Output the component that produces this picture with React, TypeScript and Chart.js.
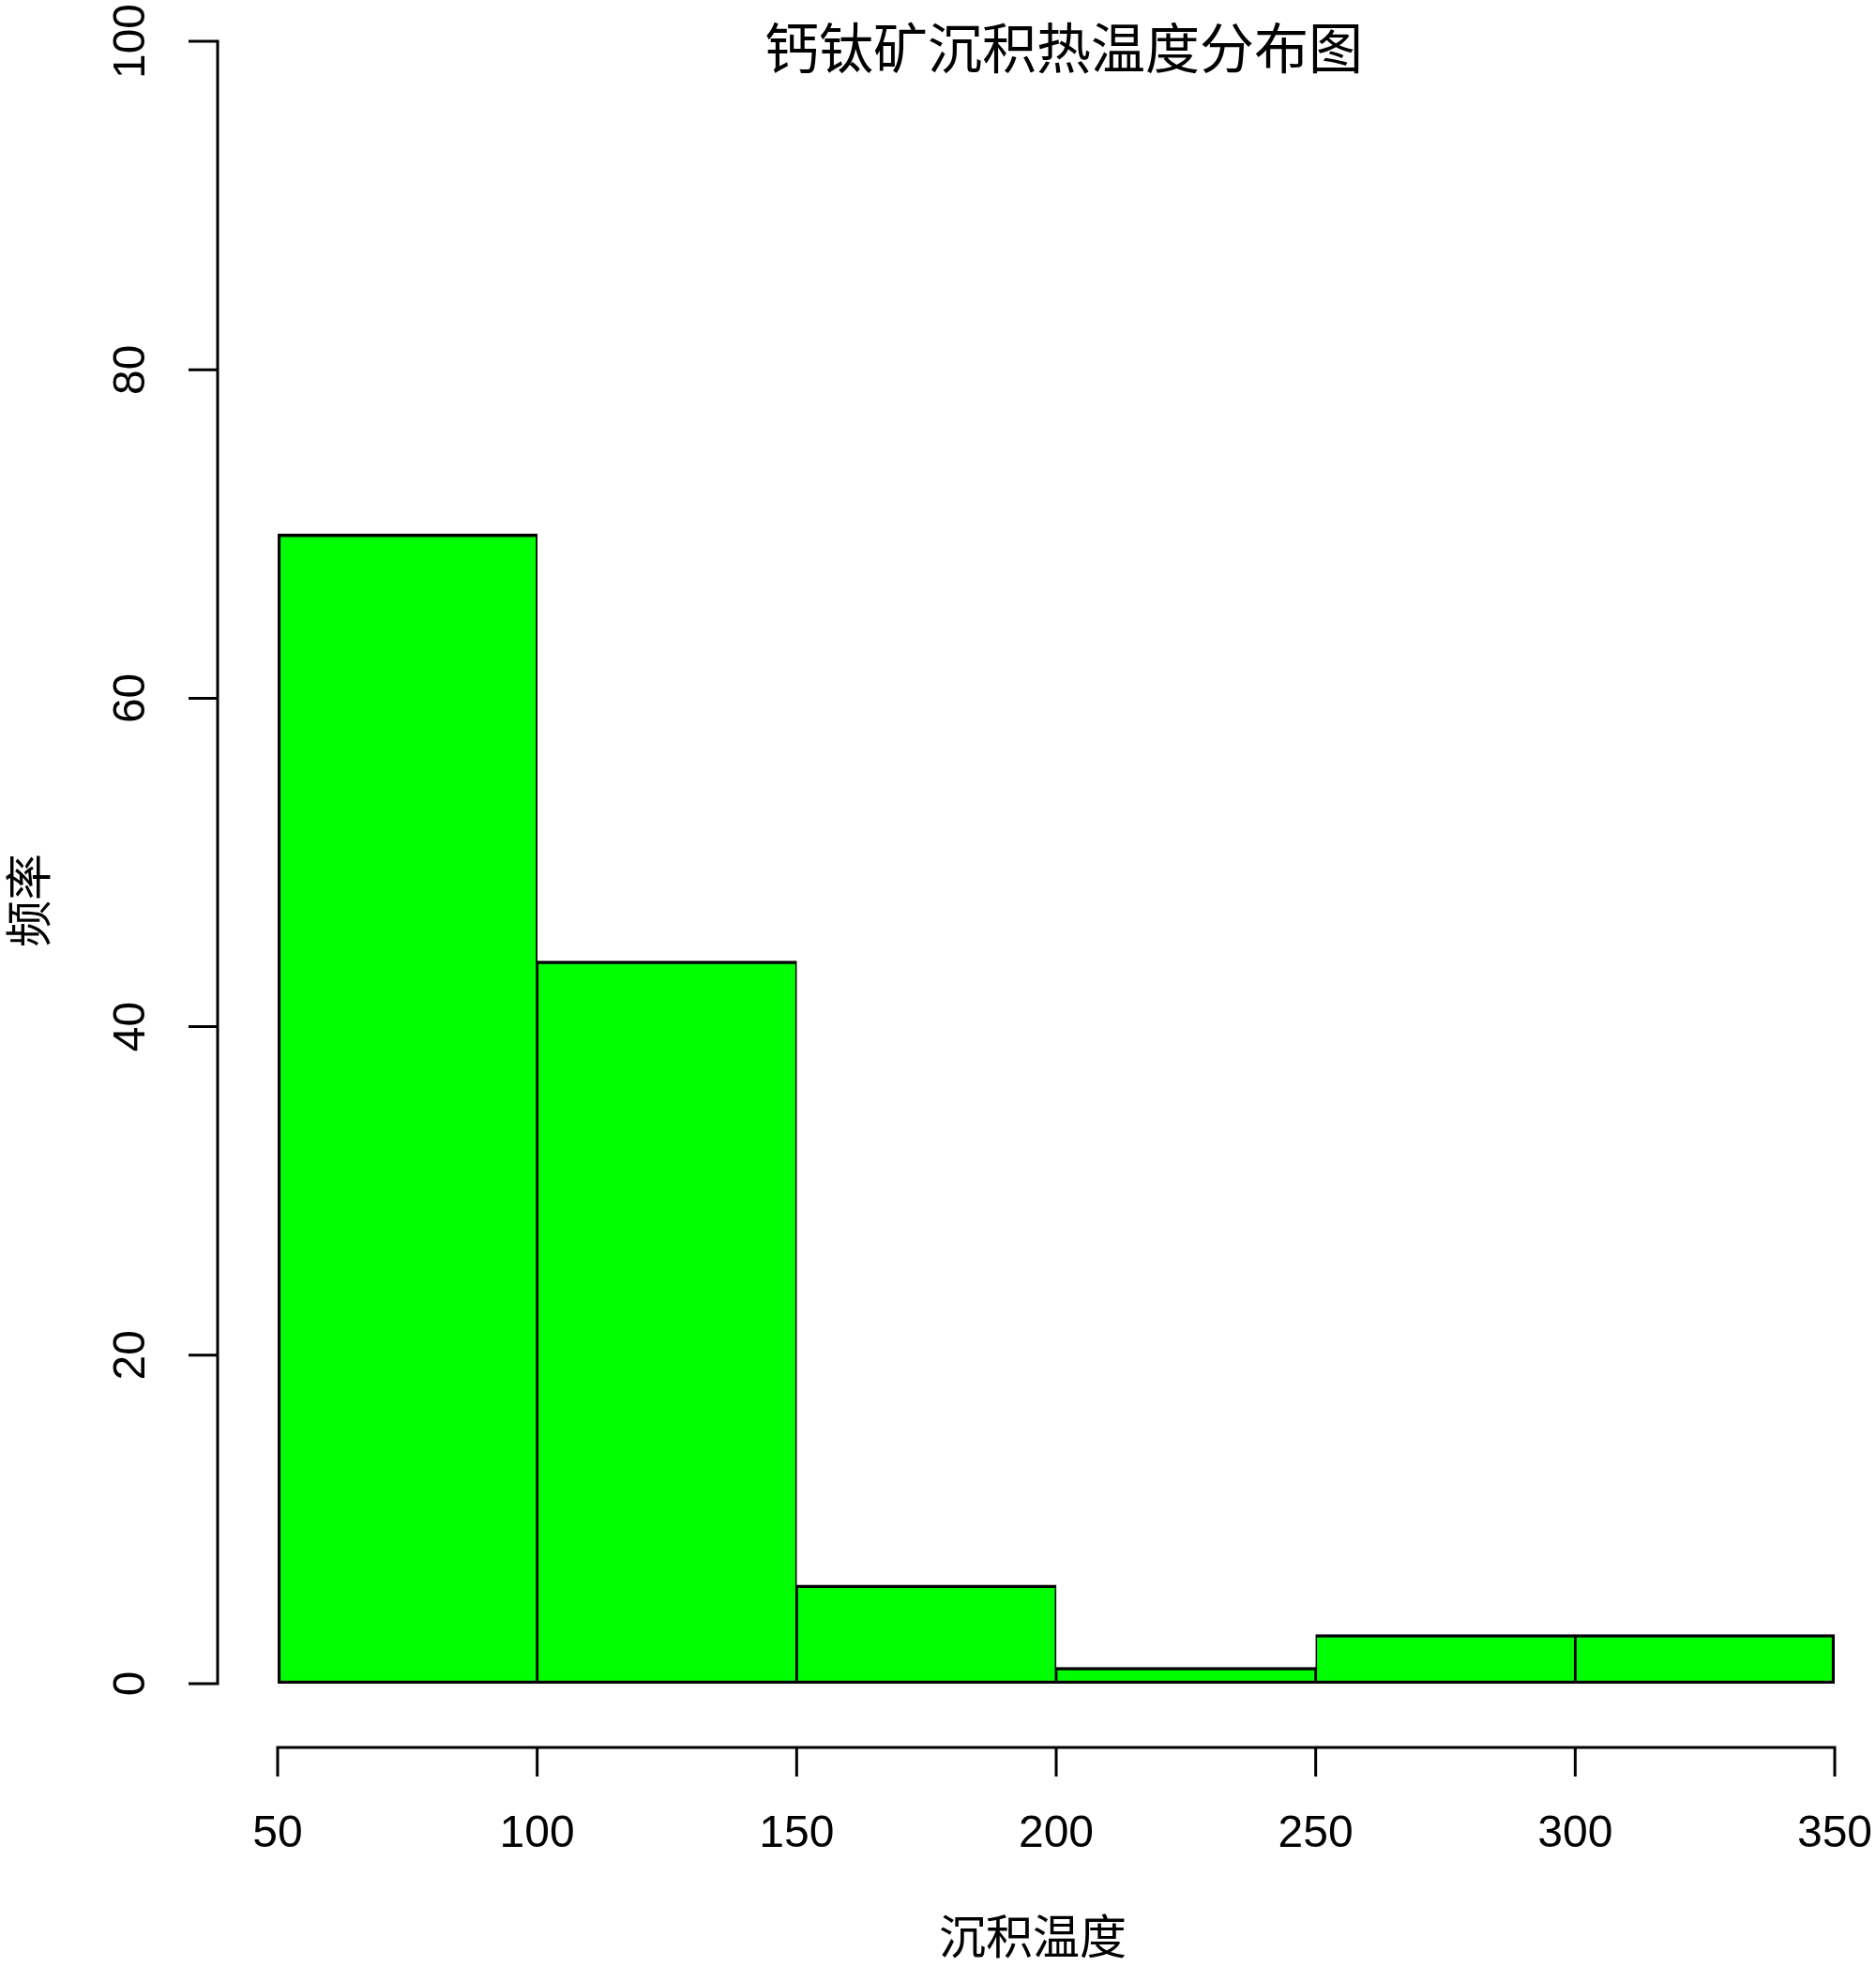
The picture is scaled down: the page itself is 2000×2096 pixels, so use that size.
import React, { useEffect, useRef } from "react";
import { Chart, registerables } from "chart.js";

Chart.register(...registerables);

const binStarts = [50, 100, 150, 200, 250, 300];
const binWidth = 50;
const counts = [70, 44, 6, 1, 3, 3];
const xTicks = [50, 100, 150, 200, 250, 300, 350];
const yTicks = [0, 20, 40, 60, 80, 100];
const titleText = "钙钛矿沉积热温度分布图";
const xTitle = "沉积温度";
const yTitle = "频率";

const CJK = '"Noto Sans CJK SC", "Noto Sans", sans-serif';
const NUM = '"Liberation Sans", Arial, sans-serif';

const rAxesPlugin = {
  id: "rAxes",
  afterDraw(chart: any) {
    const ctx = chart.ctx;
    const xs = chart.scales.x;
    const ys = chart.scales.y;
    const axisX = 232;
    const axisY = 1863;
    const tickLen = 31;
    ctx.save();
    ctx.strokeStyle = "#000";
    ctx.fillStyle = "#000";
    ctx.lineWidth = 3;
    ctx.lineCap = "butt";

    // y axis
    ctx.beginPath();
    ctx.moveTo(axisX, ys.getPixelForValue(yTicks[0]) + 1.5);
    ctx.lineTo(axisX, ys.getPixelForValue(yTicks[yTicks.length - 1]) - 1.5);
    for (const t of yTicks) {
      const py = ys.getPixelForValue(t);
      ctx.moveTo(axisX + 1.5, py);
      ctx.lineTo(axisX - tickLen, py);
    }
    ctx.stroke();
    ctx.font = `48px ${NUM}`;
    ctx.textAlign = "center";
    ctx.textBaseline = "middle";
    for (const t of yTicks) {
      const py = ys.getPixelForValue(t);
      ctx.save();
      ctx.translate(141, py);
      ctx.rotate(-Math.PI / 2);
      ctx.fillText(String(t), 0, 0);
      ctx.restore();
    }

    // x axis
    ctx.beginPath();
    ctx.moveTo(xs.getPixelForValue(xTicks[0]) - 1.5, axisY);
    ctx.lineTo(xs.getPixelForValue(xTicks[xTicks.length - 1]) + 1.5, axisY);
    for (const t of xTicks) {
      const px = xs.getPixelForValue(t);
      ctx.moveTo(px, axisY - 1.5);
      ctx.lineTo(px, axisY + tickLen);
    }
    ctx.stroke();
    for (const t of xTicks) {
      const px = xs.getPixelForValue(t);
      ctx.fillText(String(t), px, 1956);
    }

    // titles
    ctx.font = `58px ${CJK}`;
    ctx.fillText(titleText, 1134, 51);
    ctx.font = `50px ${CJK}`;
    ctx.fillText(xTitle, 1101, 2064);
    ctx.save();
    ctx.translate(30, 960);
    ctx.rotate(-Math.PI / 2);
    ctx.fillText(yTitle, 0, 0);
    ctx.restore();
    ctx.restore();
  },
};

export default function App() {
  const ref = useRef<HTMLCanvasElement>(null);
  useEffect(() => {
    if (!ref.current) return;
    const n = counts.length;
    const chart = new Chart(ref.current, {
      type: "bar",
      data: {
        datasets: [
          {
            data: binStarts.map((s, i) => ({ x: s + binWidth / 2, y: counts[i] })),
            backgroundColor: "#00FF00",
            borderColor: "#000000",
            borderWidth: (c: any) => ({
              top: 3.5,
              bottom: 3.5,
              left: c.dataIndex === 0 ? 3.5 : 1.75,
              right: c.dataIndex === n - 1 ? 3.5 : 1.75,
            }),
            borderSkipped: false,
            barPercentage: 1,
            categoryPercentage: 1,
          } as any,
        ],
      },
      options: {
        responsive: false,
        animation: false,
        devicePixelRatio: 1,
        layout: { padding: { left: 296, right: 44, top: 44, bottom: 2096 - 1795 } },
        plugins: { legend: { display: false }, tooltip: { enabled: false }, title: { display: false } },
        scales: {
          x: { type: "linear", min: xTicks[0], max: xTicks[xTicks.length - 1], display: false, offset: false },
          y: { type: "linear", min: 0, max: 100, display: false },
        },
      },
      plugins: [rAxesPlugin],
    });
    return () => chart.destroy();
  }, []);
  return (
    <div style={{ position: "absolute", left: 0, top: 0, width: 2000, height: 2096, background: "#fff" }}>
      <canvas ref={ref} width={2000} height={2096} style={{ width: 2000, height: 2096, display: "block" }} />
    </div>
  );
}
